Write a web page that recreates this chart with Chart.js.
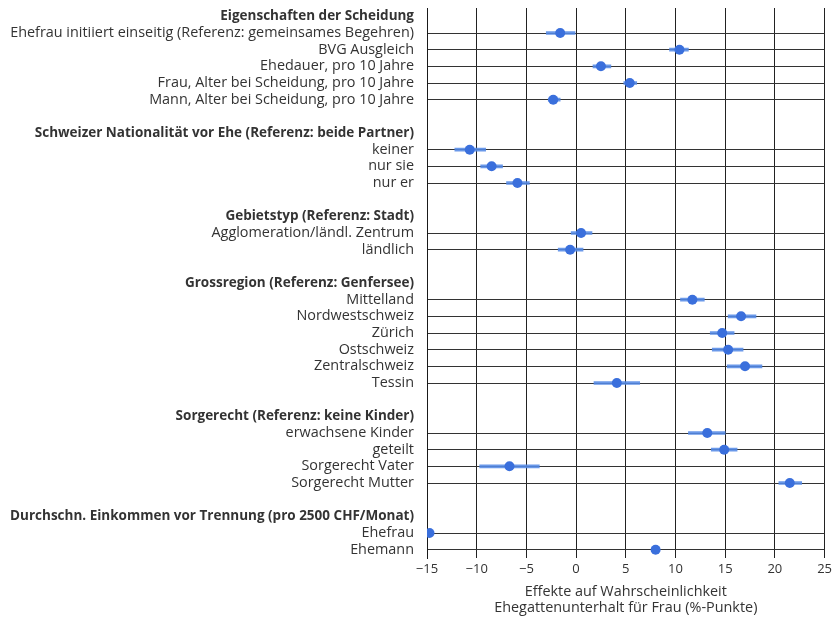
<!DOCTYPE html>
<html>
<head>
<meta charset="utf-8">
<script src="https://cdn.jsdelivr.net/npm/chart.js@4.4.1/dist/chart.umd.min.js"></script>
<style>
  html, body { margin: 0; padding: 0; background: #ffffff; }
  #wrap { position: relative; width: 835px; height: 617px; }
</style>
</head>
<body>
<div id="wrap"><canvas id="c" width="835" height="617"></canvas></div>
<script>
// Row labels (top to bottom); '' marks an empty spacer row
const categories = [
  'Eigenschaften der Scheidung',
  'Ehefrau initiiert einseitig (Referenz: gemeinsames Begehren)',
  'BVG Ausgleich',
  'Ehedauer, pro 10 Jahre',
  'Frau, Alter bei Scheidung, pro 10 Jahre',
  'Mann, Alter bei Scheidung, pro 10 Jahre',
  '',
  'Schweizer Nationalität vor Ehe (Referenz: beide Partner)',
  'keiner',
  'nur sie',
  'nur er',
  '',
  'Gebietstyp (Referenz: Stadt)',
  'Agglomeration/ländl. Zentrum',
  'ländlich',
  '',
  'Grossregion (Referenz: Genfersee)',
  'Mittelland',
  'Nordwestschweiz',
  'Zürich',
  'Ostschweiz',
  'Zentralschweiz',
  'Tessin',
  '',
  'Sorgerecht (Referenz: keine Kinder)',
  'erwachsene Kinder',
  'geteilt',
  'Sorgerecht Vater',
  'Sorgerecht Mutter',
  '',
  'Durchschn. Einkommen vor Trennung (pro 2500 CHF/Monat)',
  'Ehefrau',
  'Ehemann'
];

// Group headings (shown in bold)
const headerRows = [
  'Eigenschaften der Scheidung',
  'Schweizer Nationalität vor Ehe (Referenz: beide Partner)',
  'Gebietstyp (Referenz: Stadt)',
  'Grossregion (Referenz: Genfersee)',
  'Sorgerecht (Referenz: keine Kinder)',
  'Durchschn. Einkommen vor Trennung (pro 2500 CHF/Monat)'
];

// Point estimates (percentage points); null for header/spacer rows
const estimates = [
  null, -1.6, 10.4, 2.5, 5.4, -2.3,
  null,
  null, -10.7, -8.5, -5.9,
  null,
  null, 0.5, -0.6,
  null,
  null, 11.7, 16.6, 14.7, 15.3, 17.0, 4.1,
  null,
  null, 13.2, 14.9, -6.7, 21.5,
  null,
  null, -14.75, 8.0
];

// Confidence interval bounds
const ciLow = [
  null, -3.0, 9.4, 1.7, 4.8, -2.8,
  null,
  null, -12.2, -9.6, -7.0,
  null,
  null, -0.5, -1.8,
  null,
  null, 10.5, 15.3, 13.5, 13.7, 15.2, 1.8,
  null,
  null, 11.3, 13.6, -9.7, 20.4,
  null,
  null, -14.9, 7.9
];
const ciHigh = [
  null, -0.1, 11.3, 3.5, 6.1, -1.6,
  null,
  null, -9.1, -7.4, -4.7,
  null,
  null, 1.6, 0.7,
  null,
  null, 12.9, 18.1, 15.9, 16.8, 18.7, 6.4,
  null,
  null, 15.0, 16.2, -3.7, 22.7,
  null,
  null, -14.6, 8.1
];

// X axis range / ticks
const xMin = -15, xMax = 25, xStep = 5;
const xTitle = ['Effekte auf Wahrscheinlichkeit', 'Ehegattenunterhalt für Frau (%-Punkte)'];

const FONT = '"Open Sans", "Noto Sans", sans-serif';
const isHeader = i => headerRows.includes(categories[i]);
const isData = i => estimates[i] !== null && estimates[i] !== undefined;

const ciData = ciLow.map((lo, i) => (lo === null ? null : [lo, ciHigh[i]]));

new Chart(document.getElementById('c'), {
  type: 'bar',
  data: {
    labels: categories,
    datasets: [
      {
        type: 'bar',
        label: 'KI',
        data: ciData,
        backgroundColor: 'rgba(84,138,230,0.88)',
        borderWidth: 0,
        barThickness: 3,
        grouped: false,
        order: 2
      },
      {
        type: 'line',
        label: 'Schätzung',
        data: estimates,
        showLine: false,
        pointRadius: 5,
        pointHoverRadius: 5,
        pointBackgroundColor: '#3a6fdc',
        pointBorderWidth: 0,
        borderColor: '#3a6fdc',
        order: 1
      }
    ]
  },
  options: {
    indexAxis: 'y',
    responsive: false,
    animation: false,
    events: [],
    layout: { padding: { left: 0, right: 10, top: 8, bottom: 0 } },
    plugins: {
      legend: { display: false },
      tooltip: { enabled: false }
    },
    scales: {
      x: {
        type: 'linear',
        min: xMin,
        max: xMax,
        afterFit: s => { s.height = 59; },
        border: { display: false },
        grid: {
          color: '#222222',
          lineWidth: 1,
          drawTicks: false
        },
        ticks: {
          stepSize: xStep,
          padding: 3,
          color: '#333333',
          font: { family: FONT, size: 13 },
          callback: v => String(v).replace('-', '\u2212')
        },
        title: {
          display: true,
          text: xTitle,
          color: '#333333',
          font: { family: FONT, size: 14.4, lineHeight: 1.11 },
          padding: { top: 4, bottom: 1 }
        }
      },
      y: {
        type: 'category',
        offset: true,
        afterFit: s => { s.width = 427; },
        border: { display: true, color: '#1a1a1a', width: 1 },
        grid: {
          offset: false,
          drawTicks: true,
          tickLength: 13,
          tickColor: 'rgba(0,0,0,0)',
          lineWidth: 1,
          color: ctx => (isData(ctx.index) ? '#333333' : 'rgba(0,0,0,0)')
        },
        ticks: {
          autoSkip: false,
          padding: 0,
          color: '#333333',
          font: ctx => (isHeader(ctx.index)
            ? { family: FONT, size: 13.5, lineHeight: 1.0, weight: 'bold' }
            : { family: FONT, size: 14.4, lineHeight: 1.0, weight: 'normal' })
        }
      }
    }
  }
});
</script>
</body>
</html>
